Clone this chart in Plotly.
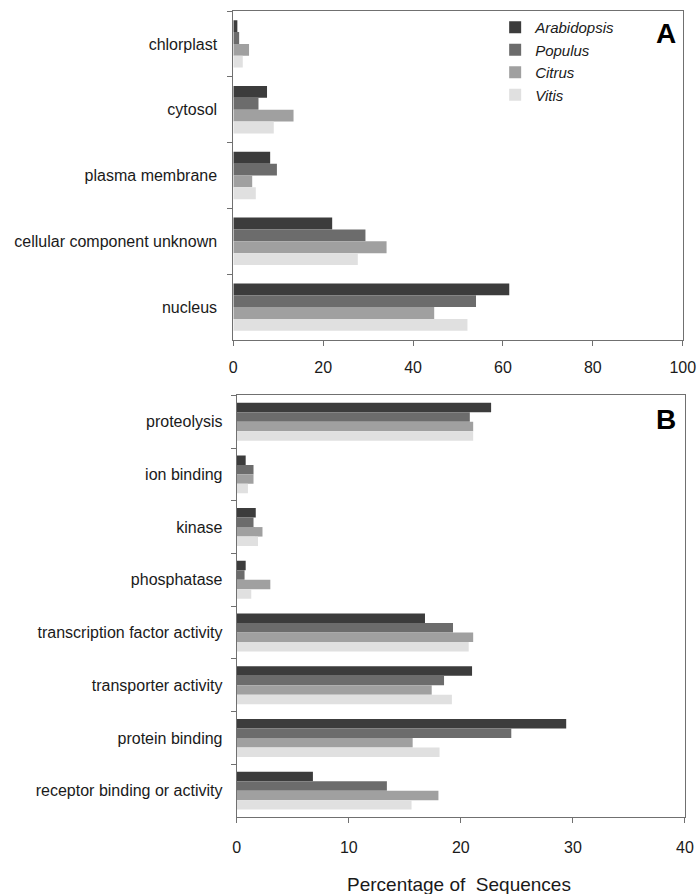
import plotly.graph_objects as go

species = ["Arabidopsis", "Populus", "Citrus", "Vitis"]
colors = ["#3c3c3c", "#6c6c6c", "#a0a0a0", "#e0e0e0"]

cat_a = ["chlorplast", "cytosol", "plasma membrane", "cellular component unknown", "nucleus"]
vals_a = {
    "Arabidopsis": [0.9, 7.5, 8.2, 22.0, 61.4],
    "Populus":     [1.3, 5.6, 9.7, 29.4, 54.0],
    "Citrus":      [3.5, 13.4, 4.2, 34.1, 44.7],
    "Vitis":       [2.1, 9.0, 5.0, 27.7, 52.1],
}

cat_b = ["proteolysis", "ion binding", "kinase", "phosphatase",
         "transcription factor activity", "transporter activity",
         "protein binding", "receptor binding or activity"]
vals_b = {
    "Arabidopsis": [22.7, 0.8, 1.7, 0.8, 16.8, 21.0, 29.4, 6.8],
    "Populus":     [20.8, 1.5, 1.5, 0.7, 19.3, 18.5, 24.5, 13.4],
    "Citrus":      [21.1, 1.5, 2.3, 3.0, 21.1, 17.4, 15.7, 18.0],
    "Vitis":       [21.1, 1.0, 1.9, 1.3, 20.7, 19.2, 18.1, 15.6],
}

ticks_a = [0, 20, 40, 60, 80, 100]
ticks_b = [0, 10, 20, 30, 40]

FONT = "Liberation Sans, Arial, sans-serif"
TXT = "#1a1a1a"
LINE = "#707070"

fig = go.Figure()
for sp, c in zip(species, colors):
    fig.add_trace(go.Bar(y=cat_a, x=vals_a[sp], orientation="h", name="<i>" + sp + "</i>",
                         marker=dict(color=c, line=dict(width=0)),
                         xaxis="x", yaxis="y", showlegend=True))
for sp, c in zip(species, colors):
    fig.add_trace(go.Bar(y=cat_b, x=vals_b[sp], orientation="h", name=sp,
                         marker=dict(color=c, line=dict(width=0)),
                         xaxis="x2", yaxis="y2", showlegend=False))

xcommon = dict(showgrid=False, zeroline=False, showline=True, linecolor=LINE,
               linewidth=1, mirror=True, ticks="outside", ticklen=5, tickcolor=LINE,
               automargin=False,
               tickfont=dict(family=FONT, size=16, color=TXT))
ycommon = dict(showgrid=False, zeroline=False, showline=True, linecolor=LINE,
               linewidth=1, mirror=True, ticks="outside", ticklen=5, tickcolor=LINE,
               tickson="boundaries", autorange="reversed", type="category",
               automargin=False,
               tickfont=dict(family=FONT, size=16, color=TXT))

fig.update_layout(
    width=698, height=894,
    margin=dict(l=233, r=13, t=11, b=77),
    paper_bgcolor="white", plot_bgcolor="white",
    barmode="group", bargap=0.28, bargroupgap=0,
    font=dict(family=FONT, color=TXT),
    xaxis=dict(domain=[0.0007, 0.995], anchor="y", range=[0, 100],
               tickvals=ticks_a, ticklabelstandoff=8, **xcommon),
    yaxis=dict(domain=[0.5918, 1.0], anchor="x", categoryorder="array",
               categoryarray=cat_a, ticklabelstandoff=12, **ycommon),
    xaxis2=dict(domain=[0.0082, 1.0], anchor="y2", range=[0, 40],
                tickvals=ticks_b, ticklabelstandoff=11, **xcommon),
    yaxis2=dict(domain=[0.0, 0.5232], anchor="x2", categoryorder="array",
                categoryarray=cat_b, ticklabelstandoff=10, **ycommon),
    legend=dict(x=0.58, y=1.0, xanchor="left", yanchor="top",
                bgcolor="rgba(0,0,0,0)", borderwidth=0,
                font=dict(family=FONT, size=15, color=TXT),
                tracegroupgap=0, itemwidth=30),
    annotations=[
        dict(text="<b>A</b>", xref="x domain", yref="y domain", x=0.99, y=0.985,
             xanchor="right", yanchor="top", showarrow=False,
             font=dict(family=FONT, size=28, color="black")),
        dict(text="<b>B</b>", xref="x2 domain", yref="y2 domain", x=0.985, y=0.985,
             xanchor="right", yanchor="top", showarrow=False,
             font=dict(family=FONT, size=28, color="black")),
        dict(text="Percentage of  Sequences", xref="paper", yref="paper", x=0.5, y=0,
             xanchor="center", yanchor="middle", yshift=-67, showarrow=False,
             font=dict(family=FONT, size=19, color=TXT)),
    ],
)

fig.write_html(
    "out.html",
    config={"displayModeBar": False},
    post_script="document.body.style.margin='0px';document.body.style.overflow='hidden';",
)
